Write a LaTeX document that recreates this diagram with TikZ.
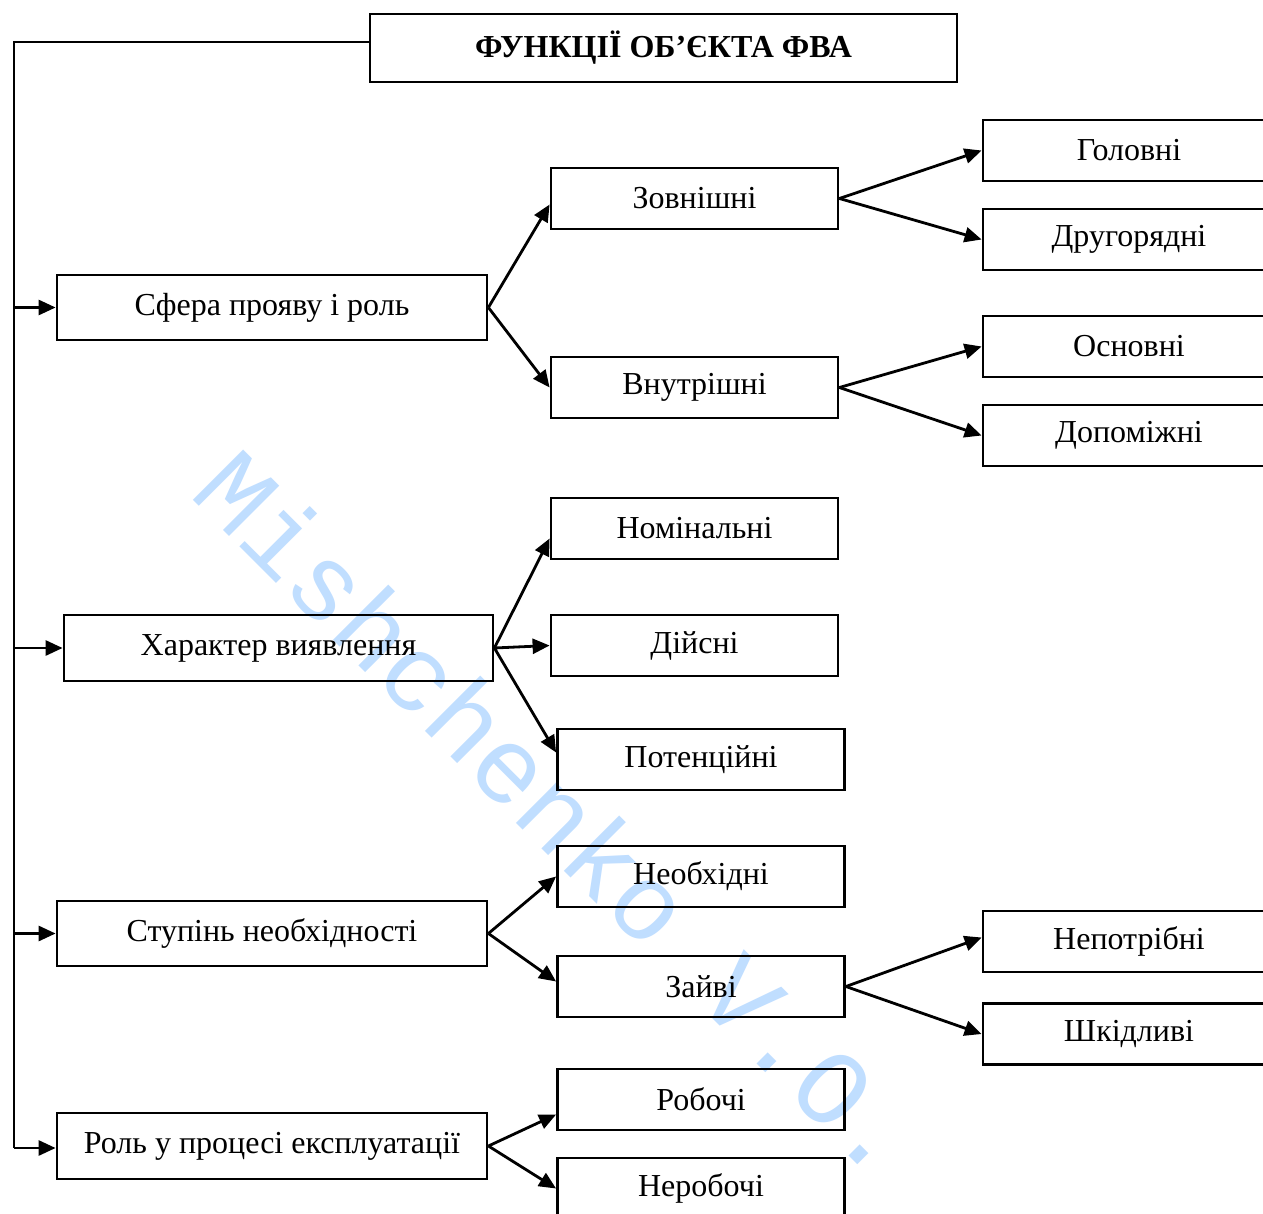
\documentclass[tikz,border=0pt]{standalone}
\usepackage{fontspec}
\setmainfont{Liberation Serif}
\newfontfamily\wmfont{Liberation Mono}
\usetikzlibrary{arrows.meta,calc}
\definecolor{wm}{RGB}{192,222,255}
\begin{document}
\begin{tikzpicture}[x=1pt,y=-1pt,
  box/.style={draw,line width=2.8pt,minimum height=61pt,inner sep=0pt,font=\fontsize{32}{34}\selectfont},
  lbox/.style={box,minimum width=430pt,minimum height=65pt},
  mbox/.style={box,minimum width=287pt},
  rbox/.style={box,minimum width=292pt},
  arr/.style={line width=2.8pt,-{Triangle[length=17pt,width=15pt]}},
  ln/.style={line width=2.8pt}]
\clip (0,0) rectangle (1263,1214);
\fill[white] (0,0) rectangle (1263,1214);
% watermark
\node[rotate=-45,text=wm,font=\wmfont\fontsize{108}{108}\selectfont] (wmk) at (560,812) {Mishchenko V.O.};
% title
\node[box,minimum width=587pt,minimum height=68pt,font=\fontsize{32}{34}\selectfont\bfseries] (t) at (663.5,48) {ФУНКЦІЇ ОБ’ЄКТА ФВА};
% left column
\node[lbox] (sf) at (272,307.5) {Сфера прояву і роль};
\node[lbox,minimum width=429pt,minimum height=66pt] (ch) at (278.5,648) {Характер виявлення};
\node[lbox] (st) at (272,933.5) {Ступінь необхідності};
\node[lbox,minimum height=66pt] (rl) at (272,1146) {Роль у процесі експлуатації};
% middle column
\node[mbox] (zov) at (694.5,198.5) {Зовнішні};
\node[mbox] (vn) at (694.5,387.5) {Внутрішні};
\node[mbox] (nom) at (694.5,528.5) {Номінальні};
\node[mbox] (dy) at (694.5,645.5) {Дійсні};
\node[mbox] (pot) at (701,759.5) {Потенційні};
\node[mbox] (neo) at (701,876.5) {Необхідні};
\node[mbox] (zay) at (701,986.5) {Зайві};
\node[mbox] (rob) at (701,1099.5) {Робочі};
\node[mbox] (nrb) at (701,1188.5) {Неробочі};
% right column
\node[rbox] (gol) at (1129,150.5) {Головні};
\node[rbox] (dr) at (1129,239.5) {Другорядні};
\node[rbox] (os) at (1129,346.5) {Основні};
\node[rbox] (dop) at (1129,435.5) {Допоміжні};
\node[rbox] (nep) at (1129,941.5) {Непотрібні};
\node[rbox] (shk) at (1129,1034) {Шкідливі};
% trunk
\coordinate (tb) at (14,1148);
\draw[ln] ([yshift=6pt]t.west) -| (tb);
\draw[arr] (tb |- sf.west) -- (sf.west);
\draw[arr] (tb |- ch.west) -- (ch.west);
\draw[arr] (tb |- st.west) -- (st.west);
\draw[arr] (tb) -- (tb -| rl.west);
% branches
\draw[arr] (sf.east) -- ([yshift=-6pt]zov.west);
\draw[arr] (sf.east) -- (vn.west);
\draw[arr] (zov.east) -- (gol.west);
\draw[arr] (zov.east) -- (dr.west);
\draw[arr] (vn.east) -- (os.west);
\draw[arr] (vn.east) -- (dop.west);
\draw[arr] (ch.east) -- ([yshift=-10pt]nom.west);
\draw[arr] (ch.east) -- (dy.west);
\draw[arr] (ch.east) -- ([yshift=7pt]pot.west);
\draw[arr] (st.east) -- (neo.west);
\draw[arr] (st.east) -- ([yshift=5pt]zay.west);
\draw[arr] (zay.east) -- ([yshift=4pt]nep.west);
\draw[arr] (zay.east) -- (shk.west);
\draw[arr] (rl.east) -- ([yshift=-15pt]rob.west);
\draw[arr] (rl.east) -- (nrb.west);
\end{tikzpicture}
\end{document}
